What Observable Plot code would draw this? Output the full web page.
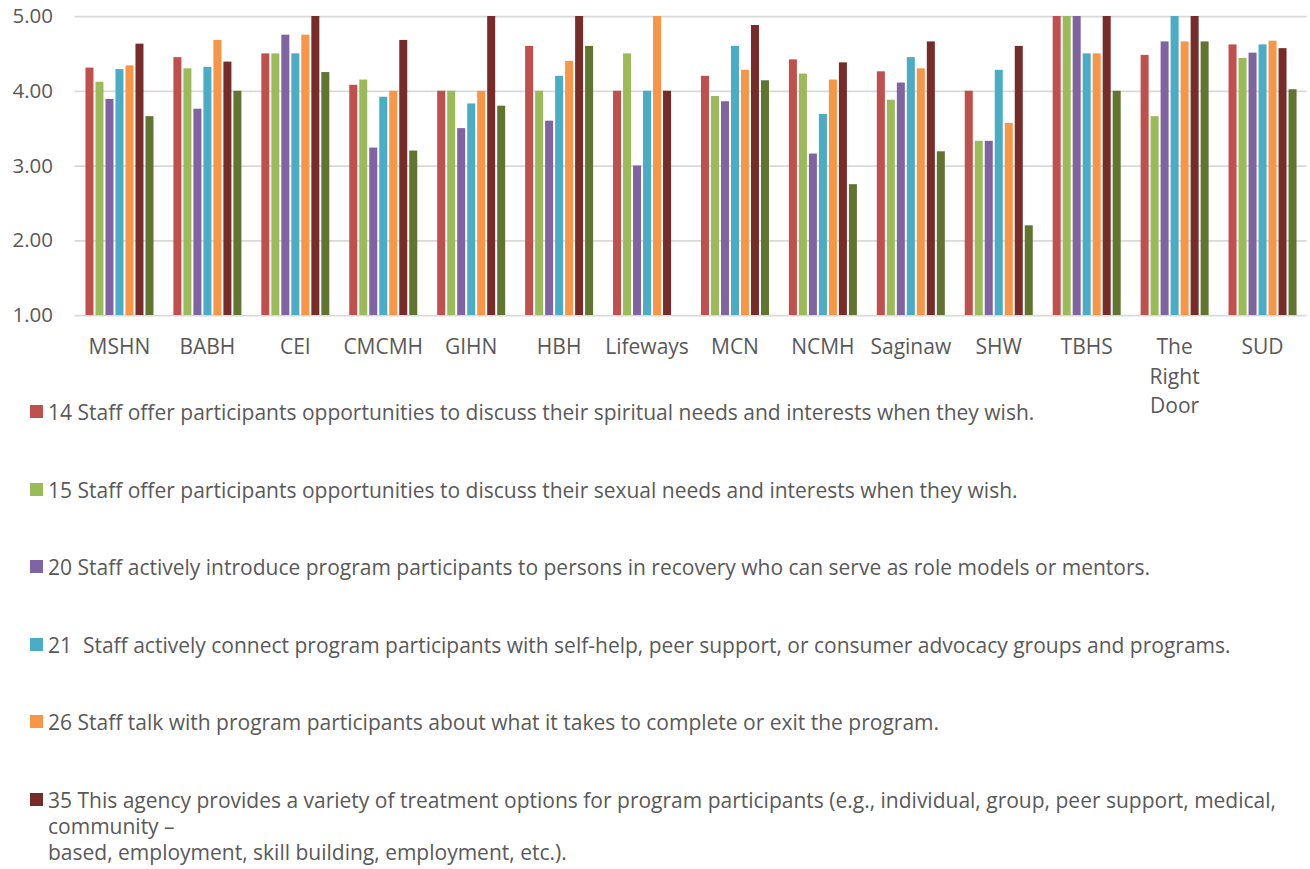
<!DOCTYPE html>
<html>
<head>
<meta charset="utf-8">
<script src="https://cdn.jsdelivr.net/npm/d3@7"></script>
<script src="https://cdn.jsdelivr.net/npm/@observablehq/plot@0.6"></script>
<style>
  html, body { margin: 0; padding: 0; background: #fff; }
  #wrap { position: relative; width: 1310px; height: 869px; overflow: hidden; font-family: "Open Sans", sans-serif; }
  #chart { position: absolute; left: 0; top: 0; }
  .legend-item { position: absolute; left: 30px; white-space: pre; font-size: 21px; line-height: 26px; color: #595959; }
  .swatch { position: absolute; left: 0; top: 6px; width: 13px; height: 13px; }
  .legend-text { margin-left: 18px; }
</style>
</head>
<body>
<div id="wrap"><div id="chart"></div></div>
<script>
const categories = ["MSHN","BABH","CEI","CMCMH","GIHN","HBH","Lifeways","MCN","NCMH","Saginaw","SHW","TBHS","The Right Door","SUD"];
const seriesKeys = ["14","15","20","21","26","35","other"];
const colors = ["#C0504D","#9BBB59","#8064A2","#4BACC6","#F79646","#772C2A","#5F7530"];
const legendLabels = [
  "14 Staff offer participants opportunities to discuss their spiritual needs and interests when they wish.",
  "15 Staff offer participants opportunities to discuss their sexual needs and interests when they wish.",
  "20 Staff actively introduce program participants to persons in recovery who can serve as role models or mentors.",
  "21  Staff actively connect program participants with self-help, peer support, or consumer advocacy groups and programs.",
  "26 Staff talk with program participants about what it takes to complete or exit the program.",
  "35 This agency provides a variety of treatment options for program participants (e.g., individual, group, peer support, medical,\ncommunity \u2013\nbased, employment, skill building, employment, etc.)."
];
const s14 = [4.31,4.45,4.50,4.08,4.00,4.60,4.00,4.20,4.42,4.26,4.00,5.00,4.48,4.62];
const s15 = [4.12,4.30,4.50,4.15,4.00,4.00,4.50,3.93,4.23,3.88,3.33,5.00,3.66,4.44];
const s20 = [3.89,3.76,4.75,3.24,3.50,3.60,3.00,3.86,3.16,4.11,3.33,5.00,4.66,4.51];
const s21 = [4.29,4.32,4.50,3.92,3.83,4.20,4.00,4.60,3.69,4.45,4.28,4.50,5.00,4.62];
const s26 = [4.34,4.68,4.75,4.00,4.00,4.40,5.00,4.28,4.15,4.30,3.57,4.50,4.66,4.67];
const s35 = [4.63,4.39,5.00,4.68,5.00,5.00,4.00,4.88,4.38,4.66,4.60,5.00,5.00,4.57];
const sOther = [3.66,4.00,4.25,3.20,3.80,4.60,null,4.14,2.75,3.19,2.20,4.00,4.66,4.02];
const seriesValues = [s14, s15, s20, s21, s26, s35, sOther];
const yTicks = [1, 2, 3, 4, 5];

const data = categories.flatMap((c, i) =>
  seriesKeys.map((k, j) => ({org: c, series: k, value: seriesValues[j][i]}))
).filter(d => d.value != null);

// plot area spans 75..1306; groups separated by equal gaps (half gap at the edges)
const W = 1310, L = 75, R = 1306, PAD = 0.17;
const n = categories.length;
const step = (R - L) / n;
const fxRange = [L + step * PAD / 2, R - step * PAD / 2];
const gridInset = -(step * PAD / 2 + 0.5);

const chart = Plot.plot({
  width: W,
  height: 430,
  marginTop: 16,
  marginBottom: 115,
  marginLeft: L,
  marginRight: W - R,
  style: {fontFamily: "'Open Sans', sans-serif", fontSize: "21px", color: "#595959", background: "white"},
  fx: {domain: categories, range: fxRange, padding: PAD, round: false, label: null},
  x: {domain: seriesKeys, padding: 0.22, axis: null},
  y: {domain: [1, 5], axis: null},
  color: {domain: seriesKeys, range: colors},
  marks: [
    Plot.ruleY(yTicks, {stroke: "#d9d9d9", strokeWidth: 1.75, insetLeft: gridInset, insetRight: gridInset}),
    Plot.barY(data, {fx: "org", x: "series", y1: 1, y2: "value", fill: "series"}),
    Plot.axisY(yTicks, {tickSize: 0, tickPadding: 30, tickFormat: d3.format(".2f"), label: null, fontSize: 20.5}),
    Plot.axisFx({anchor: "bottom", tickSize: 0, tickPadding: 18, label: null, fontSize: 21, lineHeight: 1.405,
      tickFormat: d => d.split(" ").length > 2 ? d.split(" ").join("\n") : d})
  ]
});
document.getElementById("chart").appendChild(chart);

const wrap = document.getElementById("wrap");
legendLabels.forEach((t, i) => {
  const item = document.createElement("div");
  item.className = "legend-item";
  item.style.top = (399 + i * 77.6) + "px";
  const sw = document.createElement("span");
  sw.className = "swatch";
  sw.style.background = colors[i];
  const tx = document.createElement("div");
  tx.className = "legend-text";
  tx.textContent = t;
  item.appendChild(sw);
  item.appendChild(tx);
  wrap.appendChild(item);
});
</script>
</body>
</html>
